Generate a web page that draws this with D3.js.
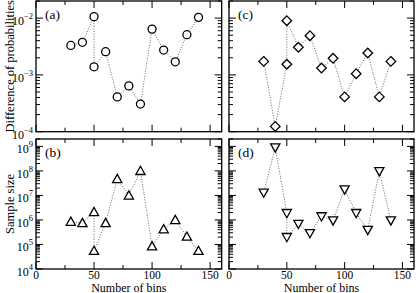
<!DOCTYPE html>
<html><head><meta charset="utf-8">
<script src="https://cdn.jsdelivr.net/npm/d3@7"></script>
<style>body{margin:0;background:#fff}svg{display:block}</style>
</head><body><svg id="chart" width="416" height="293"></svg>
<script>
// ---- data ----
const bins = [30, 40, 50, 50, 60, 70, 80, 90, 100, 110, 120, 130, 140];
const binsC = [30, 40, 50, 50, 60, 70, 80, 90, 100, 110, 120, 130, 140];
const probDiffA = [3.3e-3, 3.75e-3, 1.06e-2, 1.39e-3, 2.56e-3, 4.1e-4, 6.4e-4, 3.07e-4, 6.4e-3, 2.74e-3, 1.7e-3, 5.1e-3, 1.03e-2];
const probDiffC = [1.73e-3, 1.24e-4, 1.54e-3, 9.0e-3, 3.06e-3, 4.9e-3, 1.32e-3, 1.96e-3, 4.1e-4, 1.05e-3, 2.43e-3, 4.1e-4, 1.73e-3];
const sampleB = [8.5e5, 7.5e5, 2.1e6, 5.5e4, 7.5e5, 4.7e7, 1.0e7, 1.0e8, 8.5e4, 4.2e5, 1.0e6, 2.1e5, 5.5e4];
const sampleD = [1.3e7, 9.0e8, 1.9e6, 2.0e5, 6.9e5, 2.9e5, 1.4e6, 9.5e5, 1.75e7, 1.9e6, 3.9e5, 9.7e7, 9.5e5];
const xTicks = [0, 50, 100, 150];
const xMinorTicks = [25, 75, 125];
const xDomain = [0, 160];
const probDomain = [1e-4, 2e-2];
const sampleDomain = [1e4, 2e9];
const panelLabels = ["(a)", "(b)", "(c)", "(d)"];

const svg = d3.select("#chart");
const FONT = "'Liberation Serif','Times New Roman',serif";

const colL = [36, 221.7], colR = [229, 414];
const rowT = [1, 131.7], rowB = [139, 269];

function panel(cfg) {
  const x = d3.scaleLinear().domain(xDomain).range(cfg.xr);
  const y = d3.scaleLog().domain(cfg.yd).range([cfg.yr[1], cfg.yr[0]]);
  const g = svg.append("g");
  const [x0, x1] = cfg.xr, [y0, y1] = cfg.yr;
  const MAJ = 7, MIN = 4;
  // x ticks (bottom & top, inward)
  xTicks.concat(xMinorTicks).forEach(t => {
    const len = xTicks.includes(t) ? MAJ : MIN;
    const px = x(t);
    g.append("line").attr("x1", px).attr("x2", px).attr("y1", y1).attr("y2", y1 - len)
      .attr("stroke", "#000").attr("stroke-width", 1);
    g.append("line").attr("x1", px).attr("x2", px).attr("y1", y0).attr("y2", y0 + len)
      .attr("stroke", "#000").attr("stroke-width", 1);
  });
  // y ticks (left & right, inward)
  const yt = y.ticks();
  yt.forEach(t => {
    const lg = Math.log10(t);
    const major = Math.abs(lg - Math.round(lg)) < 1e-9;
    const len = major ? MAJ : MIN;
    const py = y(t);
    if (py < y0 - 0.1 || py > y1 + 0.1) return;
    g.append("line").attr("x1", x0).attr("x2", x0 + len).attr("y1", py).attr("y2", py)
      .attr("stroke", "#000").attr("stroke-width", 1);
    g.append("line").attr("x1", x1).attr("x2", x1 - len).attr("y1", py).attr("y2", py)
      .attr("stroke", "#000").attr("stroke-width", 1);
    if (major && cfg.yLabels) {
      const t2 = g.append("text").attr("x", x0 - 3).attr("y", py + 7)
        .attr("text-anchor", "end").attr("font-family", FONT).attr("font-size", 12).attr("fill", "#000");
      t2.append("tspan").text("10");
      t2.append("tspan").attr("dy", -6).attr("font-size", 8.5).text(String(Math.round(lg)).replace("-", "\u2212"));
    }
  });
  // x tick labels
  if (cfg.xLabels) {
    xTicks.forEach(t => {
      g.append("text").attr("x", x(t)).attr("y", y1 + 10).attr("text-anchor", "middle")
        .attr("font-family", FONT).attr("font-size", 11.5).text(t);
    });
    g.append("text").attr("x", (x0 + x1) / 2).attr("y", y1 + 22.5).attr("text-anchor", "middle")
      .attr("font-family", FONT).attr("font-size", 12).text("Number of bins");
  }
  // frame
  g.append("rect").attr("x", x0).attr("y", y0).attr("width", x1 - x0).attr("height", y1 - y0)
    .attr("fill", "none").attr("stroke", "#000").attr("stroke-width", 1.3);
  // line
  const line = d3.line().x((d, i) => x(cfg.xs[i])).y(d => y(d));
  g.append("path").datum(cfg.vals).attr("d", line).attr("fill", "none")
    .attr("stroke", "#666").attr("stroke-width", 1).attr("stroke-dasharray", "1,1.6");
  // markers
  g.selectAll(".m").data(cfg.vals).enter().append("path")
    .attr("transform", (d, i) => `translate(${x(cfg.xs[i])},${y(d)})`)
    .attr("d", cfg.marker)
    .attr("fill", "#fff").attr("stroke", "#000").attr("stroke-width", 1.3);
  // panel label
  g.append("text").attr("x", x0 + 9).attr("y", y0 + 18).attr("font-family", FONT)
    .attr("font-size", 13.5).text(cfg.label);
  // y axis title
  if (cfg.yTitle) {
    g.append("text").attr("transform", `translate(14,${(y0 + y1) / 2}) rotate(-90)`)
      .attr("text-anchor", "middle").attr("font-family", FONT).attr("font-size", 12.5).text(cfg.yTitle);
  }
}

const circle = "M4,0A4,4 0 1,1 -4,0A4,4 0 1,1 4,0Z";
const diamond = "M0,-4.8L4.8,0L0,4.8L-4.8,0Z";
const triUp = "M0,-4.6L4.6,3.6L-4.6,3.6Z";
const triDown = "M0,4.6L4.6,-3.6L-4.6,-3.6Z";

panel({xr: colL, yr: rowT, yd: probDomain, xs: bins, vals: probDiffA, marker: circle, label: panelLabels[0], yLabels: true, xLabels: false, yTitle: "Difference of probabilities"});
panel({xr: colL, yr: rowB, yd: sampleDomain, xs: bins, vals: sampleB, marker: triUp, label: panelLabels[1], yLabels: true, xLabels: true, yTitle: "Sample size"});
panel({xr: colR, yr: rowT, yd: probDomain, xs: binsC, vals: probDiffC, marker: diamond, label: panelLabels[2], yLabels: false, xLabels: false});
panel({xr: colR, yr: rowB, yd: sampleDomain, xs: bins, vals: sampleD, marker: triDown, label: panelLabels[3], yLabels: false, xLabels: true});
</script></body></html>
